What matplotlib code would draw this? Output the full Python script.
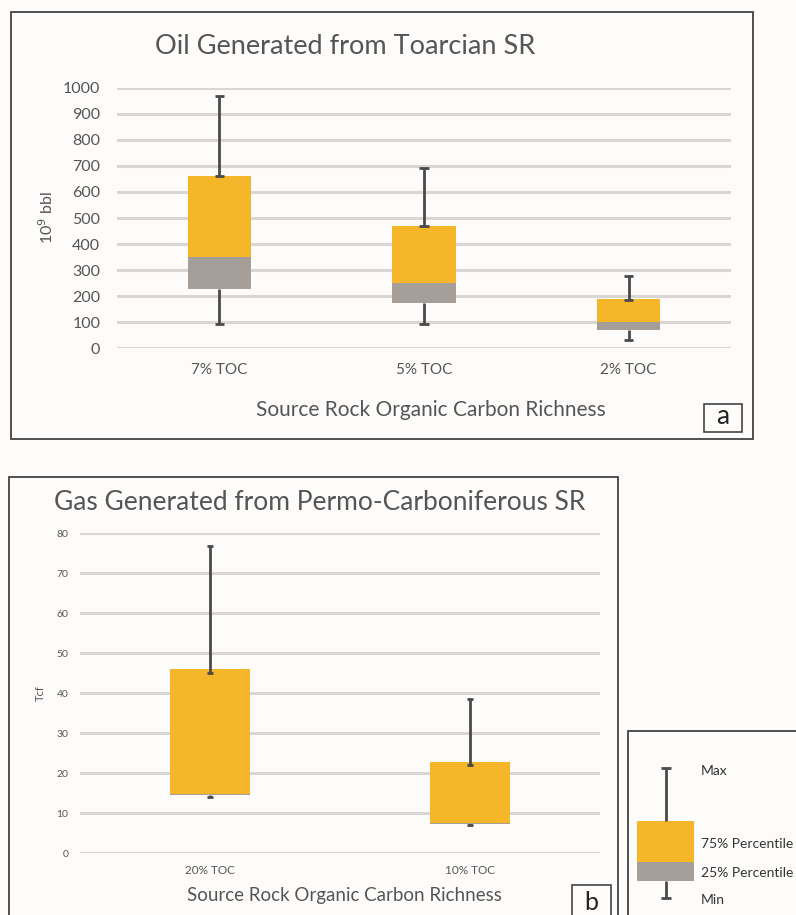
import matplotlib
matplotlib.use("Agg")
import matplotlib.pyplot as plt
from matplotlib.patches import Rectangle

plt.rcParams['font.family'] = ['Lato', 'DejaVu Sans']

# ---- Oil generated from Toarcian source rock (10^9 bbl) ----
oil_categories = ["7% TOC", "5% TOC", "2% TOC"]
oil_min = [93, 93, 31]
oil_box_bottom = [226, 173, 69]
oil_p25 = [350, 249, 100]
oil_p75 = [660, 468, 189]
oil_whisker_base = [660, 468, 187]
oil_max = [969, 692, 279]
oil_yticks = [0, 100, 200, 300, 400, 500, 600, 700, 800, 900, 1000]

# ---- Gas generated from Permo-Carboniferous source rock (Tcf) ----
gas_categories = ["20% TOC", "10% TOC"]
gas_min = [14.1, 7.1]
gas_box_bottom = [14.6, 7.3]
gas_p25 = [14.9, 7.5]
gas_p75 = [46.0, 22.9]
gas_whisker_base = [45.0, 22.1]
gas_max = [76.8, 38.7]
gas_yticks = [0, 10, 20, 30, 40, 50, 60, 70, 80]

YELLOW = "#F5B62A"
GREY = "#A69F99"
WHISKER = "#4A4A4A"
GRID = "#DAD6D3"
TEXT = "#555555"
FRAME = "#444444"
BG = "#FDFCFB"

W, H = 796, 915
fig = plt.figure(figsize=(W / 100, H / 100), dpi=100, facecolor=BG)


def px_axes(x0, y0, x1, y1):
    """Axes placed by pixel box (top-left origin)."""
    return fig.add_axes([x0 / W, 1 - y1 / H, (x1 - x0) / W, (y1 - y0) / H])


def px_rect(x0, y0, x1, y1, lw=1.3):
    fig.patches.append(Rectangle((x0 / W, 1 - y1 / H), (x1 - x0) / W, (y1 - y0) / H,
                                 transform=fig.transFigure, fill=False,
                                 edgecolor=FRAME, linewidth=lw, zorder=0))


def px_text(x, y, s, **kw):
    fig.text(x / W, 1 - y / H, s, **kw)


def draw_boxes(ax, n, bottom, p25, p75, wbase, vmin, vmax, cap, width=0.31):
    xs = list(range(n))
    ax.bar(xs, [p - b for p, b in zip(p25, bottom)], bottom=bottom, width=width,
           color=GREY, zorder=3)
    ax.bar(xs, [t - p for t, p in zip(p75, p25)], bottom=p25, width=width,
           color=YELLOW, zorder=3)
    for x, wb, hi, b, lo in zip(xs, wbase, vmax, bottom, vmin):
        ax.vlines(x, wb, hi, color=WHISKER, linewidth=2, zorder=4)
        ax.vlines(x, lo, b, color=WHISKER, linewidth=2, zorder=4)
        ax.hlines([wb, hi, lo], x - cap, x + cap, color=WHISKER, linewidth=2, zorder=4)


def style_axes(ax, yticks, tick_size):
    ax.set_facecolor("none")
    for s in ax.spines.values():
        s.set_visible(False)
    ax.set_yticks(yticks)
    ax.yaxis.grid(True, color=GRID, linewidth=2.2, zorder=0)
    ax.set_axisbelow(True)
    ax.tick_params(axis="both", length=0, colors=TEXT, labelsize=tick_size)
    ax.set_xticks([])


# ------------------------- panel a -------------------------
px_rect(11, 11.7, 752.7, 438.7)
ax1 = px_axes(117, 87.7, 731, 348.3)
ax1.set_xlim(-0.5, len(oil_categories) - 0.5)
ax1.set_ylim(oil_yticks[0], oil_yticks[-1])
style_axes(ax1, oil_yticks, 11.5)
ax1.tick_params(axis="y", pad=12)
draw_boxes(ax1, len(oil_categories), oil_box_bottom, oil_p25, oil_p75,
           oil_whisker_base, oil_min, oil_max, cap=0.022)
for i, c in enumerate(oil_categories):
    ax1.text(i, -0.085, c, transform=ax1.get_xaxis_transform(), ha="center",
             va="center", fontsize=11, color=TEXT)
px_text(47, 218, "10$^9$ bbl", ha="center", va="center", rotation=90,
        fontsize=11.5, color=TEXT)
px_text(345, 47, "Oil Generated from Toarcian SR", ha="center", va="center",
        fontsize=19.5, color=TEXT)
px_text(431, 410, "Source Rock Organic Carbon Richness", ha="center", va="center",
        fontsize=15, color=TEXT)
px_rect(704, 404, 742, 432, lw=1.2)
px_text(723, 417, "a", ha="center", va="center", fontsize=19, color="#222222")

# ------------------------- panel b -------------------------
px_rect(9.3, 476.7, 617.5, 925)
ax2 = px_axes(80, 533.3, 600, 853.3)
ax2.set_xlim(-0.5, len(gas_categories) - 0.5)
ax2.set_ylim(gas_yticks[0], gas_yticks[-1])
style_axes(ax2, gas_yticks, 7.5)
ax2.tick_params(axis="y", pad=8.5)
draw_boxes(ax2, len(gas_categories), gas_box_bottom, gas_p25, gas_p75,
           gas_whisker_base, gas_min, gas_max, cap=0.012)
for i, c in enumerate(gas_categories):
    ax2.text(i, -0.055, c, transform=ax2.get_xaxis_transform(), ha="center",
             va="center", fontsize=8.5, color=TEXT)
px_text(40, 693, "Tcf", ha="center", va="center", rotation=90,
        fontsize=8, color=TEXT)
px_text(320, 503, "Gas Generated from Permo-Carboniferous SR", ha="center",
        va="center", fontsize=19, color=TEXT)
px_text(344, 895, "Source Rock Organic Carbon Richness", ha="center", va="center",
        fontsize=13.5, color=TEXT)
px_rect(572, 885, 611, 925, lw=1.2)
px_text(591.5, 902, "b", ha="center", va="center", fontsize=18, color="#222222")

# ------------------------- key -------------------------
px_rect(627.5, 730.7, 805, 925)
key = px_axes(628, 731, 796, 915)
key.set_xlim(628, 796)
key.set_ylim(915, 731)
key.axis("off")
key.bar(665.7, 880.7 - 861.7, bottom=861.7, width=57, color=GREY)
key.bar(665.7, 861.7 - 820.7, bottom=820.7, width=57, color=YELLOW)
key.vlines(665.7, 768.3, 820.7, color=WHISKER, linewidth=2)
key.vlines(665.7, 880.7, 898.3, color=WHISKER, linewidth=2)
key.hlines([768.3, 898.3], 661, 670.5, color=WHISKER, linewidth=2)
for y, s in [(770.7, "Max"), (844, "75% Percentile"), (873.3, "25% Percentile"),
             (900, "Min")]:
    key.text(700.5, y, s, ha="left", va="center", fontsize=10, color="#333333",
             clip_on=False)

fig.savefig("out.png", dpi=100, facecolor=BG)
